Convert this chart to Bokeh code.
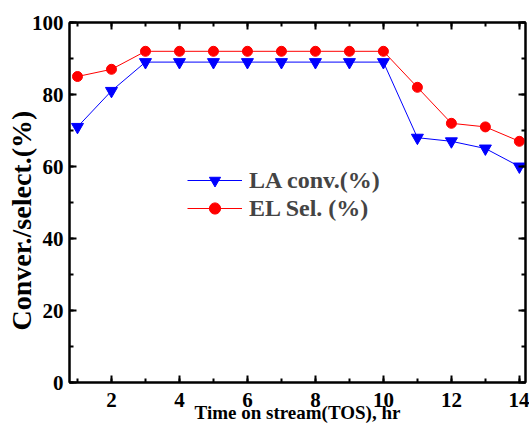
from bokeh.plotting import figure
from bokeh.models import (LinearAxis, SingleIntervalTicker, Range1d, Legend, LegendItem, Title)
from bokeh.embed import file_html
from bokeh.resources import INLINE

tos = [1, 2, 3, 4, 5, 6, 7, 8, 9, 10, 11, 12, 13, 14]
la_conv = [71, 81, 89, 89, 89, 89, 89, 89, 89, 89, 68, 67, 65, 60]
el_sel = [85, 87, 92, 92, 92, 92, 92, 92, 92, 92, 82, 72, 71, 67]
x_title = "Time on stream(TOS), hr"
y_title = "Conver./select.(%)"
series_names = ["LA conv.(%)", "EL Sel. (%)"]

FONT = "Liberation Serif"

p = figure(width=529, height=426, output_backend="svg", toolbar_location=None,
           x_range=Range1d(0.765, 14.18), y_range=Range1d(0, 100),
           x_axis_location=None, y_axis_location=None,
           min_border_left=69, min_border_right=4, min_border_top=22, min_border_bottom=44)
p.background_fill_color = "white"
p.border_fill_color = "white"
p.outline_line_color = "black"
p.outline_line_width = 2
p.xgrid.visible = False
p.ygrid.visible = False

def style(ax, ticker, labels=True):
    ax.ticker = ticker
    ax.axis_line_width = 2
    ax.axis_line_color = "black"
    ax.major_tick_in = 7
    ax.major_tick_out = 0
    ax.minor_tick_in = 4
    ax.minor_tick_out = 0
    ax.major_tick_line_width = 2
    ax.minor_tick_line_width = 2
    ax.major_label_text_font = FONT
    ax.major_label_text_font_style = "bold"
    if labels:
        ax.major_label_text_color = "black"
        ax.major_label_text_font_size = "21px"
    else:
        ax.major_label_text_color = None
        ax.major_label_text_font_size = "1px"
        ax.major_label_standoff = 0

xb = LinearAxis(axis_label=x_title)
style(xb, SingleIntervalTicker(interval=2, num_minor_ticks=2))
xb.major_label_standoff = 10
xb.axis_label_text_font = FONT
xb.axis_label_text_font_style = "bold"
xb.axis_label_text_font_size = "19px"
xb.axis_label_text_color = "black"
xb.axis_label_standoff = -8
p.add_layout(xb, "below")

yl = LinearAxis()
style(yl, SingleIntervalTicker(interval=20, num_minor_ticks=2))
yl.major_label_standoff = 6
p.add_layout(yl, "left")

ytitle = Title(text=y_title, align="left", offset=52, standoff=-16,
               text_font=FONT, text_font_style="bold", text_font_size="28px",
               text_color="black")
p.add_layout(ytitle, "left")

xt = LinearAxis()
style(xt, SingleIntervalTicker(interval=2, num_minor_ticks=2), labels=False)
p.add_layout(xt, "above")

yr = LinearAxis()
style(yr, SingleIntervalTicker(interval=20, num_minor_ticks=2), labels=False)
p.add_layout(yr, "right")

l1 = p.line(tos, la_conv, line_color="#0000FF", line_width=1)
m1 = p.scatter(tos, la_conv, marker="inverted_triangle", size=12,
               fill_color="#0000FF", line_color="#0000FF")
l2 = p.line(tos, el_sel, line_color="#FF0000", line_width=1)
m2 = p.scatter(tos, el_sel, marker="circle", size=10,
               fill_color="#FF0000", line_color="#FF0000")

legend = Legend(items=[LegendItem(label=series_names[0], renderers=[l1, m1]),
                       LegendItem(label=series_names[1], renderers=[l2, m2])],
                location=(118, 160))
legend.label_text_font = FONT
legend.label_text_font_style = "bold"
legend.label_text_font_size = "24px"
legend.label_height = 28
legend.glyph_height = 28
legend.glyph_width = 55
legend.label_standoff = 7
legend.spacing = 0
legend.padding = 0
legend.margin = 0
legend.border_line_color = None
legend.background_fill_alpha = 0
p.add_layout(legend, "center")

open("out.html", "w").write(file_html(p, INLINE))
